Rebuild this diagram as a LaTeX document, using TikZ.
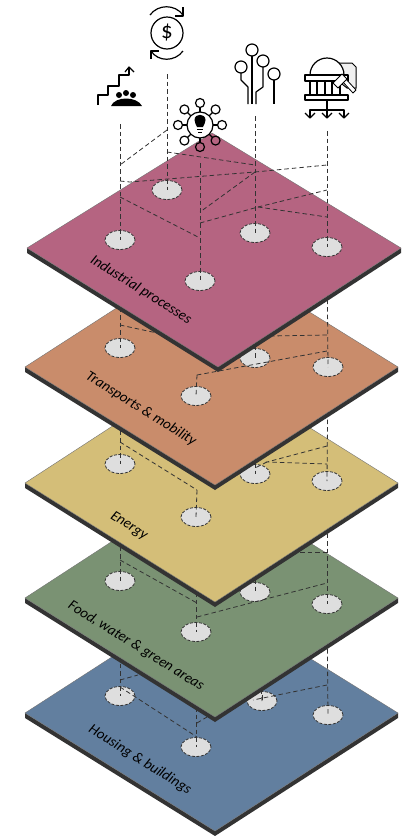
\documentclass[tikz,border=0pt]{standalone}
\usepackage{fontspec}
\setmainfont{Carlito}
\usepackage{xcolor}
\usetikzlibrary{shapes.geometric}

\definecolor{plateI}{HTML}{B56481}
\definecolor{plateT}{HTML}{C98C6B}
\definecolor{plateE}{HTML}{D4BE78}
\definecolor{plateF}{HTML}{7A9273}
\definecolor{plateH}{HTML}{627F9F}
\definecolor{edgedark}{HTML}{333333}
\definecolor{hubgrey}{HTML}{DEDEDE}

\tikzset{
  hub/.style={ellipse, fill=hubgrey, draw=edgedark, line width=0.8pt, dash pattern=on 3pt off 1.5pt,
    minimum width=30pt, minimum height=19pt, inner sep=0pt},
  link/.style={draw=edgedark, line width=0.8pt, dash pattern=on 4.5pt off 3pt},
  icon/.style={draw=black, line width=1.2pt, line join=round},
  layername/.style={font=\itshape\fontsize{14.6}{14.6}\selectfont, text=black, rotate=-32, inner sep=0pt},
}

% corners: top, right, bottom, left
\newcommand{\plate}[5]{
  \fill[edgedark] (#5) -- (#4) -- (#3) -- ([yshift=-5pt]#3) -- ([yshift=-5pt]#4) -- ([yshift=-5pt]#5) -- cycle;
  \fill[#1, draw=black!55, line width=0.4pt] (#2) -- (#3) -- (#4) -- (#5) -- cycle;
}

\begin{document}
\begin{tikzpicture}[x=1pt, y=-1pt]
  \useasboundingbox[fill=white] (0,0) rectangle (416,836);

  % hub positions, layer by layer
  \foreach \n/\x/\y in {i1/120/240, i2/167/190, i3/255/233, i4/327/247, i5/200/281,
                        t1/120/348, t3/255/358, t4/328/367, t5/196/396,
                        e1/120/464, e3/255/474, e4/327/481, e5/196/517,
                        f1/120/581, f3/255/592, f4/327/604, f5/196/632,
                        h1/120/696, h3/262/701, h4/328/715, h5/196/747} {
    \coordinate (\n) at (\x,\y);
  }
  % foot of each icon
  \coordinate (stairs) at (120,124);
  \coordinate (coin) at (167,74);
  \coordinate (tree) at (255,116);
  \coordinate (court) at (327,131);
  \coordinate (bulb) at (200,163);

  % housing
  \plate{plateH}{208,595}{398,713}{215,831}{25,713}
  \foreach \n in {h1,h3,h4,h5} { \node[hub] (hub\n) at (\n) {}; }
  \coordinate (ha) at (120,680);
  \coordinate (hb) at (138,675);
  \coordinate (hc) at (120,687);
  \coordinate (hd) at (197,737);
  \coordinate (he) at (197,723);
  \coordinate (hf) at (207,717);
  \coordinate (hg) at (327,685);
  \coordinate (hh) at (253,700);
  \coordinate (hi) at (262,695);
  \draw[link] (f1) -- (h1);
  \draw[link] (f3) -- (h3);
  \draw[link] (f4) -- (h4);
  \draw[link] (f5) -- (h5);
  \draw[link] (ha) -- (hb);
  \draw[link] (hc) -- (hd);
  \draw[link] (he) -- (hf);
  \draw[link] (hg) -- (hh);
  \draw[link] (hi) -- (h3);
  \node[layername] (housing) at (140,760) {Housing \& buildings};

  % food
  \plate{plateF}{208,479}{398,598}{215,717}{25,598}
  \foreach \n in {f1,f3,f4,f5} { \node[hub] (hub\n) at (\n) {}; }
  \coordinate (fa) at (120,560);
  \coordinate (fb) at (197,603);
  \coordinate (fc) at (197,617);
  \coordinate (fd) at (327,583);
  \coordinate (fe) at (300,552);
  \coordinate (ff) at (327,552);
  \draw[link] (e1) -- (f1);
  \draw[link] (e3) -- (f3);
  \draw[link] (e4) -- (f4);
  \draw[link] (e5) -- (f5);
  \draw[link] (fa) -- (fb);
  \draw[link] (fc) -- (fd);
  \draw[link] (fe) -- (ff);
  \node[layername] (food) at (136,646) {Food, water \& green areas};

  % energy
  \plate{plateE}{208,364}{398,483}{215,602}{25,483}
  \foreach \n in {e1,e3,e4,e5} { \node[hub] (hub\n) at (\n) {}; }
  \coordinate (ea) at (120,442);
  \coordinate (eb) at (197,490);
  \coordinate (ec) at (327,446);
  \coordinate (ed) at (267,462);
  \coordinate (ee) at (327,464);
  \draw[link] (t1) -- (e1);
  \draw[link] (t3) -- (e3);
  \draw[link] (t4) -- (e4);
  \draw[link] (eb) -- (e5);
  \draw[link] (ea) -- (eb);
  \draw[link] (ec) -- (ed) -- (ee);
  \draw[link] (ed) -- (255,468);
  \node[layername] (energy) at (129,526) {Energy};

  % transports
  \plate{plateT}{208,249}{398,367}{215,485}{25,367}
  \foreach \n in {t1,t3,t4,t5} { \node[hub] (hub\n) at (\n) {}; }
  \coordinate (ta) at (120,325);
  \coordinate (tb) at (157,333);
  \coordinate (tc) at (270,336);
  \coordinate (td) at (327,335);
  \coordinate (te) at (197,375);
  \coordinate (tf) at (327,351);
  \draw[link] (i1) -- (t1);
  \draw[link] (i3) -- (t3);
  \draw[link] (i4) -- (t4);
  \draw[link] (te) -- (t5);
  \draw[link] (ta) -- (tb);
  \draw[link] (tc) -- (td);
  \draw[link] (te) -- (tf);
  \node[layername] (transports) at (141,409) {Transports \& mobility};

  % industrial
  \plate{plateI}{212,133}{401,248}{218,367}{27,248}
  \foreach \n in {i1,i2,i3,i4,i5} { \node[hub] (hub\n) at (\n) {}; }
  \coordinate (ia) at (167,130);
  \coordinate (ib) at (120,165);
  \coordinate (ic) at (167,152);
  \coordinate (id) at (255,165);
  \coordinate (ie) at (120,181);
  \coordinate (if) at (130,182);
  \coordinate (ig) at (255,172);
  \coordinate (ih) at (327,165);
  \coordinate (ii) at (200,212);
  \coordinate (ij) at (200,223);
  \coordinate (ik) at (258,207);
  \coordinate (il) at (327,190);
  \coordinate (im) at (327,217);
  \coordinate (in) at (120,197);
  \coordinate (io) at (200,238);
  \draw[link] (stairs) -- (i1);
  \draw[link] (coin) -- (i2);
  \draw[link] (tree) -- (i3);
  \draw[link] (court) -- (i4);
  \draw[link] (bulb) -- (i5);
  \draw[link] (ia) -- (ib);
  \draw[link] (ic) -- (id);
  \draw[link] (ie) -- (if) -- (ig) -- (ih);
  \draw[link] (ig) -- (ii);
  \draw[link] (ij) -- (ik) -- (il);
  \draw[link] (ik) -- (im);
  \draw[link] (in) -- (io);
  \node[layername] (industrial) at (141,290) {Industrial processes};

  % stairs and people
  \draw[icon] (98,105) -- (98,95) -- (108,95) -- (108,86) -- (119,86) -- (119,75) -- (129,75) -- (129,67);
  \draw[icon] (125,72) -- (129,67) -- (134,72);
  \foreach \x/\y in {119/95, 126/93, 133/95} {
    \fill (\x,\y) circle (3pt);
  }
  \fill (111,106) .. controls (115,96) and (137,96) .. (142,106) -- cycle;

  % coin
  \draw[icon] (167,33) circle (16pt);
  \node[font=\fontsize{23}{23}\selectfont, inner sep=0pt] (dollar) at (167,33) {\$};
  \draw[icon] (150,15) .. controls (158,4) and (175,4) .. (183,15);
  \draw[icon] (175,16) -- (183,16) -- (183,7);
  \draw[icon] (183,51) .. controls (175,62) and (158,62) .. (151,51);
  \draw[icon] (151,59) -- (151,51) -- (159,51);

  % circuit tree
  \foreach \x/\y in {252/50, 241/67, 263/61, 274/74} {
    \draw[icon] (\x,\y) circle (6pt);
  }
  \draw[icon] (252,56) -- (252,104);
  \draw[icon] (241,73) -- (241,80) -- (248,87) -- (248,104);
  \draw[icon] (263,67) -- (263,87) -- (256,92) -- (256,104);
  \draw[icon] (274,80) -- (274,104);

  % court
  \fill[black!6, draw=black, line width=1pt] (337,63) -- (352,63) -- (356,67) -- (356,88) -- (347,88) -- (337,80) -- cycle;
  \draw[icon, fill=white] (310,75) arc (180:0:17pt);
  \draw[icon, fill=white] (305,75) rectangle (348,81);
  \foreach \x in {310,317,325,332,340} {
    \draw[icon] (\x,81) -- (\x,95);
  }
  \draw[icon, fill=white] (305,95) rectangle (348,100);
  \draw[icon, fill=white, line width=0.8pt] (342,81) -- (345,78) -- (356,90) -- (353,93) -- cycle;
  \draw[icon, fill=white, line width=0.8pt] (333,83) -- (342,74) -- (347,79) -- (338,88) -- cycle;
  \draw[icon] (327,100) -- (327,118);
  \draw[icon] (310,118) -- (310,110) -- (344,110) -- (344,118);
  \foreach \x in {310,327,344} {
    \draw[icon] (\x-5,113) -- (\x,118) -- (\x+5,113);
  }

  % bulb
  \foreach \a in {0,45,...,315} {
    \draw[icon] (200,125) ++(\a:13pt) -- ++(\a:4.5pt);
    \draw[icon] (200,125) ++(\a:22pt) circle (4.5pt);
  }
  \draw[icon, fill=white] (200,125) circle (13pt);
  \fill (197,127) .. controls (196,124) and (194.5,123) .. (194.5,120) .. controls (194.5,113) and (205.5,113) .. (205.5,120) .. controls (205.5,123) and (204,124) .. (203,127) -- cycle;
  \draw[line width=0.8pt] (197,129.5) -- (203,129.5);
  \draw[line width=0.8pt] (198,132) -- (202,132);
\end{tikzpicture}
\end{document}
